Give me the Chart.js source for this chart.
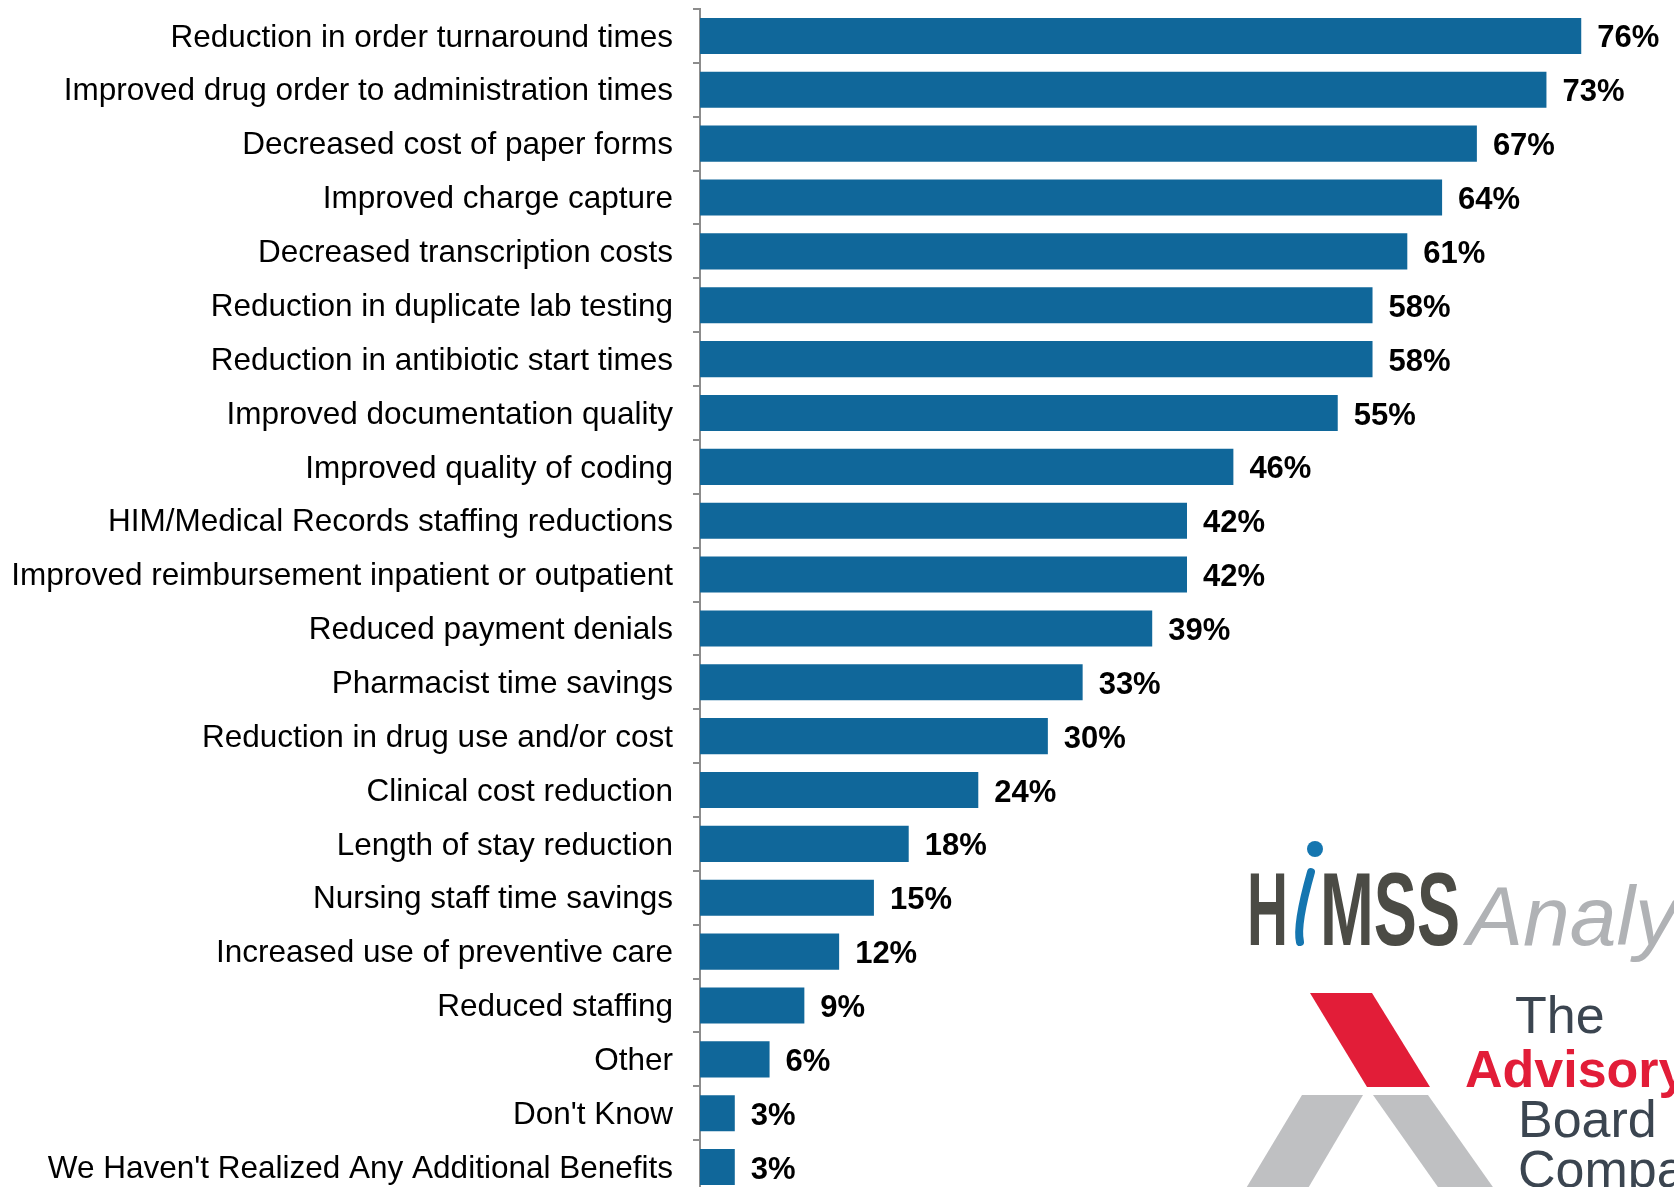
<!DOCTYPE html>
<html>
<head>
<meta charset="utf-8">
<script src="https://cdn.jsdelivr.net/npm/chart.js@4"></script>
<style>
  html, body { margin: 0; padding: 0; background: #fff; overflow: hidden; }
  #wrap { width: 1674px; height: 1200px; }
</style>
</head>
<body>
<div id="wrap"><canvas id="myChart"></canvas></div>
<script>
const labels = [
  "Reduction in order turnaround times",
  "Improved drug order to administration times",
  "Decreased cost of paper forms",
  "Improved charge capture",
  "Decreased transcription costs",
  "Reduction in duplicate lab testing",
  "Reduction in antibiotic start times",
  "Improved documentation quality",
  "Improved quality of coding",
  "HIM/Medical Records staffing reductions",
  "Improved reimbursement inpatient or outpatient",
  "Reduced payment denials",
  "Pharmacist time savings",
  "Reduction in drug use and/or cost",
  "Clinical cost reduction",
  "Length of stay reduction",
  "Nursing staff time savings",
  "Increased use of preventive care",
  "Reduced staffing",
  "Other",
  "Don't Know",
  "We Haven't Realized Any Additional Benefits"
];
const values = [76, 73, 67, 64, 61, 58, 58, 55, 46, 42, 42, 39, 33, 30, 24, 18, 15, 12, 9, 6, 3, 3];

// percent labels at the end of each bar
const valueLabels = {
  id: "valueLabels",
  afterDatasetsDraw(chart) {
    const ctx = chart.ctx;
    const meta = chart.getDatasetMeta(0);
    ctx.save();
    ctx.font = "bold 31px 'Liberation Sans', Arial, sans-serif";
    ctx.fillStyle = "#000";
    ctx.textBaseline = "middle";
    ctx.textAlign = "left";
    meta.data.forEach((bar, i) => {
      ctx.fillText(values[i] + "%", bar.x + 16, bar.y + 3);
    });
    ctx.restore();
  }
};

// the two logos in the lower right corner
const logos = {
  id: "logos",
  afterDraw(chart) {
    const ctx = chart.ctx;
    ctx.save();
    // HiMSS
    ctx.fillStyle = "#4b4b45";
    ctx.font = "bold 104px 'Liberation Sans Narrow', 'Liberation Sans', sans-serif";
    ctx.textBaseline = "alphabetic";
    ctx.save();
    ctx.translate(1247, 945);
    ctx.scale(41 / ctx.measureText("H").width, 1);
    ctx.fillText("H", 0, 0);
    ctx.restore();
    ctx.save();
    ctx.translate(1320, 945);
    ctx.scale(140 / ctx.measureText("MSS").width, 1);
    ctx.fillText("MSS", 0, 0);
    ctx.restore();
    ctx.fillStyle = "#1576b0";
    ctx.beginPath();
    ctx.arc(1315, 849, 8, 0, Math.PI * 2);
    ctx.fill();
    ctx.strokeStyle = "#1576b0";
    ctx.lineWidth = 8;
    ctx.lineCap = "round";
    ctx.beginPath();
    ctx.moveTo(1311, 872);
    ctx.quadraticCurveTo(1296, 925, 1300, 942);
    ctx.stroke();
    ctx.fillStyle = "#b0b2b5";
    ctx.font = "italic 84px 'Liberation Sans', sans-serif";
    ctx.fillText("Analytics", 1467, 945);

    // Advisory Board shapes
    ctx.fillStyle = "#e21d38";
    ctx.beginPath();
    ctx.moveTo(1310, 993); ctx.lineTo(1372, 993);
    ctx.lineTo(1430, 1087); ctx.lineTo(1367, 1087);
    ctx.closePath(); ctx.fill();
    ctx.fillStyle = "#bfc0c2";
    ctx.beginPath();
    ctx.moveTo(1302, 1095); ctx.lineTo(1363, 1095);
    ctx.lineTo(1307, 1190); ctx.lineTo(1245, 1190);
    ctx.closePath(); ctx.fill();
    ctx.beginPath();
    ctx.moveTo(1373, 1095); ctx.lineTo(1428, 1095);
    ctx.lineTo(1495, 1190); ctx.lineTo(1440, 1190);
    ctx.closePath(); ctx.fill();

    ctx.font = "52px 'Liberation Sans', sans-serif";
    ctx.fillStyle = "#3b4550";
    ctx.fillText("The", 1515, 1033);
    ctx.fillText("Board", 1518, 1137);
    ctx.fillText("Company", 1518, 1187);
    ctx.font = "bold 52px 'Liberation Sans', sans-serif";
    ctx.fillStyle = "#e21d38";
    ctx.fillText("Advisory", 1465, 1087);
    ctx.restore();
  }
};

const data = {
  labels: labels,
  datasets: [
    {
      data: values,
      backgroundColor: "#10679a",
      borderWidth: 0,
      categoryPercentage: 1,
      barPercentage: 0.67
    }
  ]
};

const config = {
  type: "bar",
  data: data,
  options: {
    indexAxis: "y",
    responsive: true,
    maintainAspectRatio: false,
    animation: false,
    layout: { padding: { top: 9, bottom: 6, left: 0, right: 0 } },
    plugins: {
      legend: { display: false },
      tooltip: { enabled: false }
    },
    scales: {
      x: {
        display: false,
        min: 0,
        max: 84
      },
      y: {
        afterFit(scale) {
          scale.width = 700;
          scale.paddingTop = 0;
          scale.paddingBottom = 0;
        },
        grid: {
          drawOnChartArea: false,
          drawTicks: true,
          tickLength: 7,
          color: "#8c8c8c",
          lineWidth: 2
        },
        border: { color: "#8c8c8c", width: 2 },
        ticks: {
          color: "#000",
          padding: 20,
          labelOffset: 2,
          font: { family: "'Liberation Sans', Arial, sans-serif", size: 31.5 }
        }
      }
    }
  },
  plugins: [valueLabels, logos]
};

const myChart = new Chart(document.getElementById("myChart"), config);
</script>
</body>
</html>
